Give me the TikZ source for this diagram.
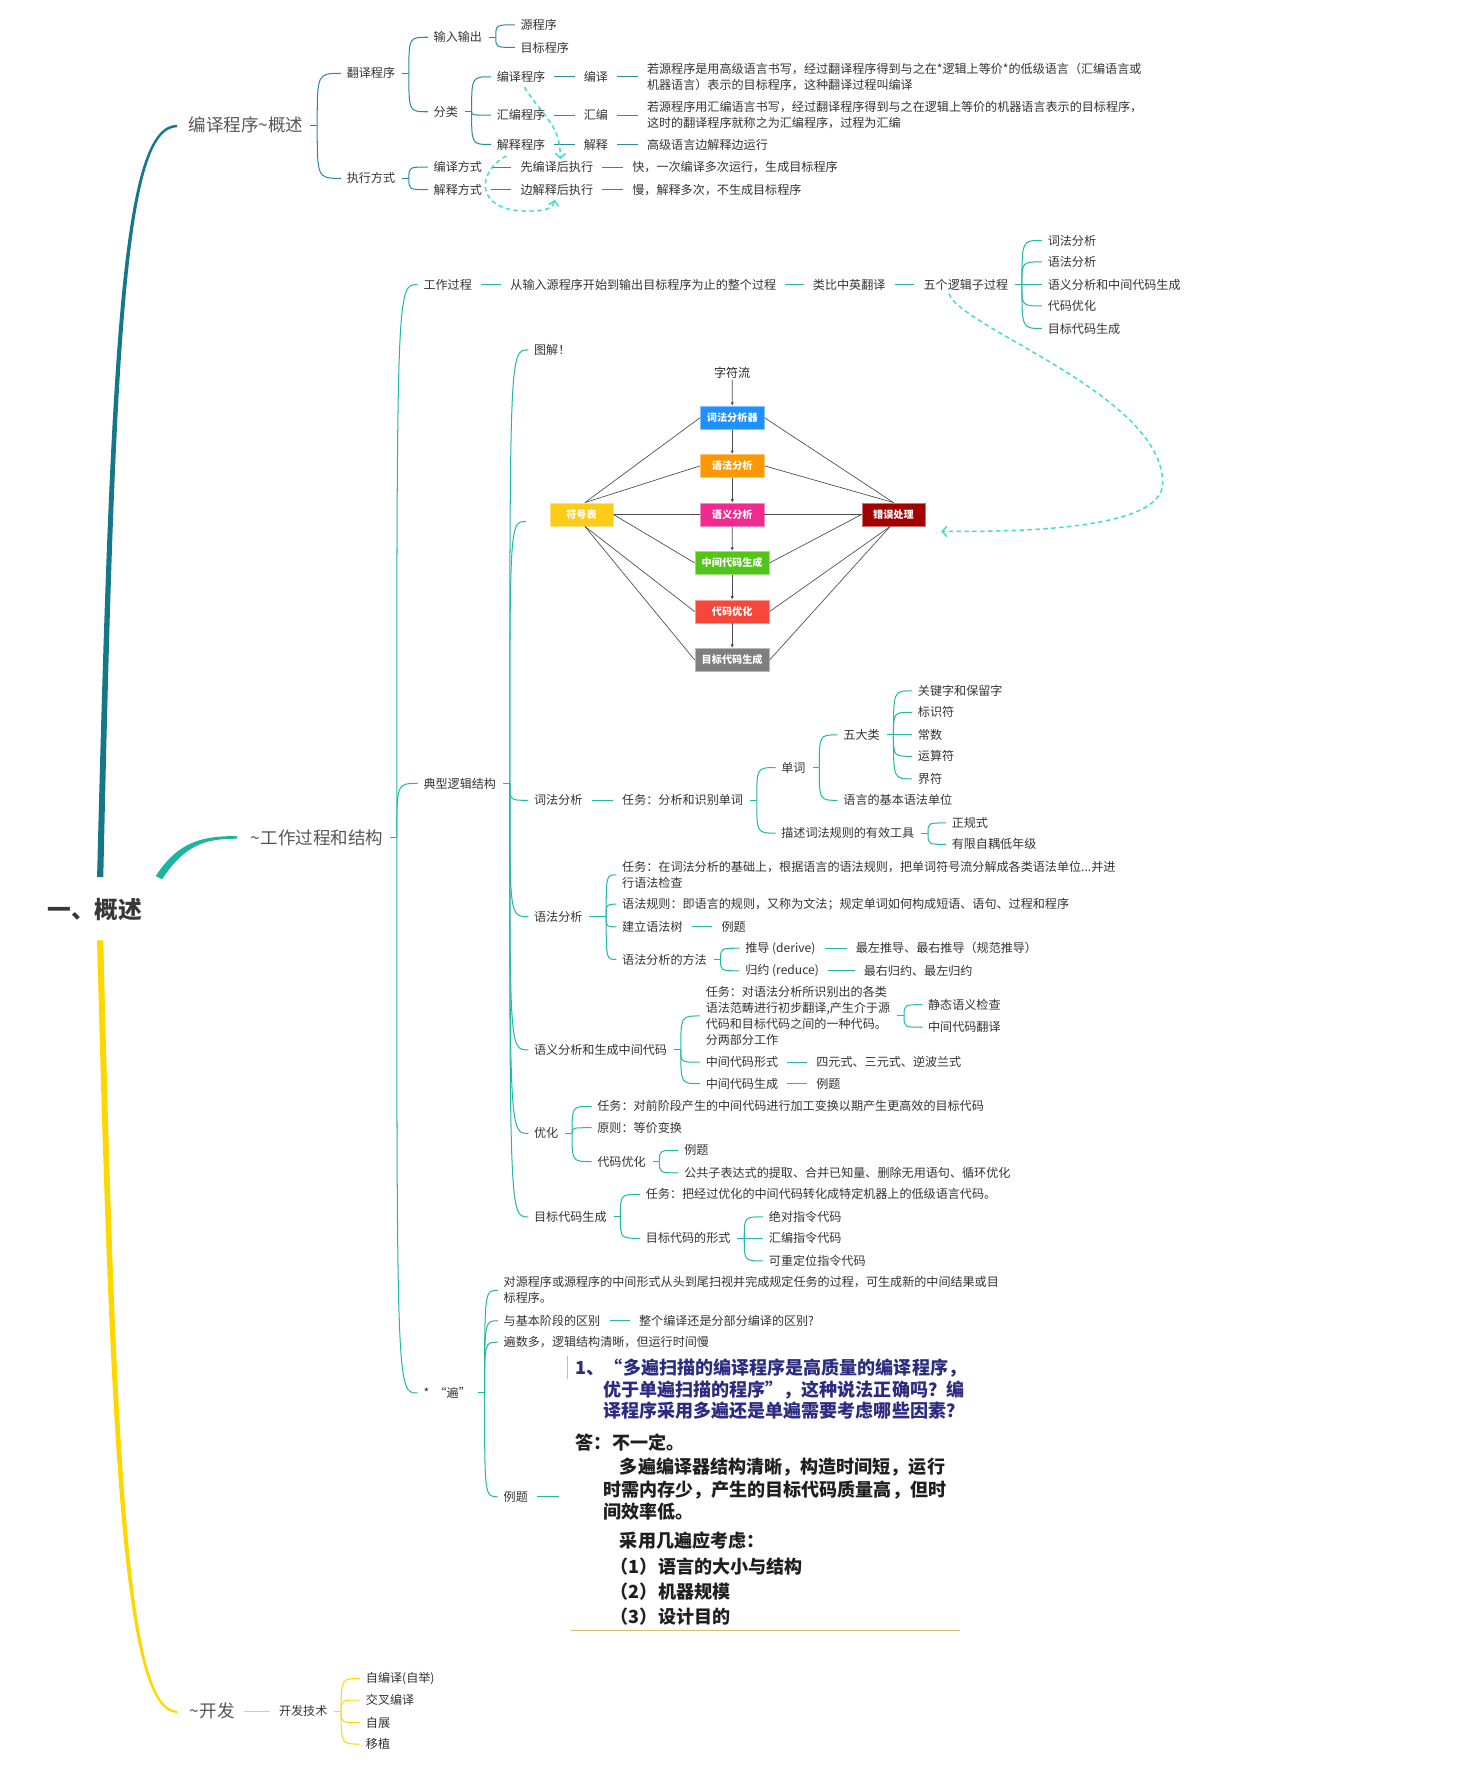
\documentclass[tikz,border=0pt]{standalone}
\usepackage{fontspec}
\setmainfont{Noto Sans CJK SC}
\usetikzlibrary{arrows.meta,calc}
\definecolor{txt}{HTML}{333333}
\definecolor{lv}{HTML}{555555}
\definecolor{cAm}{HTML}{15788A}
\definecolor{cA}{HTML}{2B8A9C}
\definecolor{cBm}{HTML}{1CB5A0}
\definecolor{cB}{HTML}{22B8A6}
\definecolor{cC}{HTML}{FFD700}
\definecolor{dsc}{HTML}{40DDCC}
\definecolor{navy}{HTML}{2B2B80}
\definecolor{tanc}{HTML}{D6BE78}
\definecolor{k1}{HTML}{1E90FF}
\definecolor{k2}{HTML}{FF9800}
\definecolor{k3}{HTML}{F02A8F}
\definecolor{k4}{HTML}{52C41A}
\definecolor{k5}{HTML}{F5483B}
\definecolor{k6}{HTML}{7F7F7F}
\definecolor{k7}{HTML}{FCCC17}
\definecolor{k8}{HTML}{A30000}
\newcommand\mmfan[3]{%
  \coordinate (#2-p) at ([xshift=7pt]#2.east);
  \draw[#1] ([xshift=1pt]#2.east) -- (#2-p);
  \foreach \chn in {#3} {\draw[#1] (#2-p) to[br] (\chn.west);}%
}
\newcommand\mmln[3]{\draw[#1,ch] (#2.east) -- (#3.west);}
\begin{document}
\begin{tikzpicture}[x=1pt,y=-1pt,
  t/.style={anchor=west, xshift=-5pt, inner xsep=5pt, inner ysep=2pt, text=txt,
    font=\fontsize{10.7}{14}\selectfont, align=left},
  L1/.style={t, font=\fontsize{15.5}{18}\selectfont, text=lv},
  ca/.style={draw=cA, line width=0.9pt},
  cb/.style={draw=cB, line width=0.9pt},
  cc/.style={draw=cC, line width=0.9pt},
  ch/.style={shorten <=3pt, shorten >=3pt},
  br/.style={to path={.. controls (\tikztostart |- \tikztotarget) .. (\tikztotarget) \tikztonodes}},
  dsh/.style={draw=dsc, line width=1.3pt, dash pattern=on 4pt off 3pt, -{Straight Barb[length=4pt,width=9pt]}},
  box/.style={fill=#1, draw=#1!55!white, line width=0.6pt, minimum height=20.6pt, inner sep=0pt,
    text=white, font=\bfseries\fontsize{9}{10}\selectfont},
  dl/.style={draw=black!70, line width=0.6pt},
  arr/.style={dl, -{Latex[length=3pt,width=3pt]}},
  big/.style={anchor=west, inner sep=0pt, font=\bfseries\fontsize{16}{19}\selectfont}
]
\useasboundingbox (0,0) rectangle (1300,1568);

% ---------------- root and main branches
\node[font=\bfseries\fontsize{21}{24}\selectfont, text=black!78] (R) at (84,806) {一、概述};
\fill[cAm] (86,777) .. controls (98,300) and (108,110.5) .. (157,110.5) -- (157,112.7)
  .. controls (111,112.7) and (102,300) .. (91.5,777) -- cycle;
\fill[cBm] (138,776) .. controls (158,745) and (180,740.6) .. (210,740.6) -- (210,743)
  .. controls (182,743) and (164,748) .. (143.5,779) -- cycle;
\fill[cC] (86,833) .. controls (98,1300) and (110,1517.5) .. (157,1517.5) -- (157,1515.5)
  .. controls (113,1515.5) and (103,1300) .. (91.5,833) -- cycle;

% ---------------- branch A
\node[L1] (A) at (167,111) {编译程序{\textasciitilde}概述};
\node[t] (A1) at (307,65) {翻译程序};
\node[t] (A2) at (307,158) {执行方式};
\node[t] (A11) at (384,33) {输入输出};
\node[t] (A12) at (384,99) {分类};
\node[t] (A111) at (461,22) {源程序};
\node[t] (A112) at (461,42) {目标程序};
\node[t] (Aa) at (440,68) {编译程序};
\node[t] (Ab) at (440,102) {汇编程序};
\node[t] (Ac) at (440,128) {解释程序};
\node[t] (Aa2) at (517,68) {编译};
\node[t] (Ab2) at (517,102) {汇编};
\node[t] (Ac2) at (517,128) {解释};
\node[t] (Aa3) at (573,68) {若源程序是用高级语言书写，经过翻译程序得到与之在*逻辑上等价*的低级语言（汇编语言或\\机器语言）表示的目标程序，这种翻译过程叫编译};
\node[t] (Ab3) at (573,102) {若源程序用汇编语言书写，经过翻译程序得到与之在逻辑上等价的机器语言表示的目标程序，\\这时的翻译程序就称之为汇编程序，过程为汇编};
\node[t] (Ac3) at (573,128) {高级语言边解释边运行};
\node[t] (A21) at (384,148) {编译方式};
\node[t] (A22) at (384,168) {解释方式};
\node[t] (A21b) at (461,148) {先编译后执行};
\node[t] (A22b) at (461,168) {边解释后执行};
\node[t] (A21c) at (560,148) {快，一次编译多次运行，生成目标程序};
\node[t] (A22c) at (560,168) {慢，解释多次，不生成目标程序};

\mmfan{ca}{A}{A1,A2}
\mmfan{ca}{A1}{A11,A12}
\mmfan{ca}{A11}{A111,A112}
\mmfan{ca}{A12}{Aa,Ab,Ac}
\mmfan{ca}{A2}{A21,A22}
\mmln{ca}{Aa}{Aa2}\mmln{ca}{Aa2}{Aa3}
\mmln{ca}{Ab}{Ab2}\mmln{ca}{Ab2}{Ab3}
\mmln{ca}{Ac}{Ac2}\mmln{ca}{Ac2}{Ac3}
\mmln{ca}{A21}{A21b}\mmln{ca}{A21b}{A21c}
\mmln{ca}{A22}{A22b}\mmln{ca}{A22b}{A22c}

\draw[dsh] ([xshift=3pt,yshift=-2pt]Aa.south) .. controls (478,100) and (497,110) .. ([xshift=3pt]A21b.north);
\coordinate (w2) at (467,187);
\draw[dsh] ([xshift=-13pt,yshift=-3pt]Ac.south) .. controls (422,152) and (420,187) .. (w2)
  .. controls (482,187) and (490,185) .. ([xshift=-2pt,yshift=-2pt]A22b.south);

% ---------------- branch B
\node[L1] (B) at (222,742) {{\textasciitilde}工作过程和结构};
\node[t] (B1) at (375,252) {工作过程};
\node[t] (B2) at (375,694) {典型逻辑结构};
\node[t] (B3) at (375,1234) {*\ \ “遍”};
\mmfan{cb}{B}{B1,B2,B3}

\node[t] (B11) at (452,252) {从输入源程序开始到输出目标程序为止的整个过程};
\node[t] (B12) at (720,252) {类比中英翻译};
\node[t] (B13) at (818,252) {五个逻辑子过程};
\mmln{cb}{B1}{B11}\mmln{cb}{B11}{B12}\mmln{cb}{B12}{B13}
\node[t] (F1) at (928,213) {词法分析};
\node[t] (F2) at (928,232) {语法分析};
\node[t] (F3) at (928,252) {语义分析和中间代码生成};
\node[t] (F4) at (928,271) {代码优化};
\node[t] (F5) at (928,291) {目标代码生成};
\mmfan{cb}{B13}{F1,F2,F3,F4,F5}

% typical structure
\node[t] (G0) at (473,310) {图解！};
\coordinate (dg) at (466,462);
\node[t] (G1) at (473,709) {词法分析};
\node[t] (G2) at (473,812) {语法分析};
\node[t] (G3) at (473,930) {语义分析和生成中间代码};
\node[t] (G4) at (473,1004) {优化};
\node[t] (G5) at (473,1078) {目标代码生成};
\coordinate (B2-p) at ([xshift=7pt]B2.east);
\draw[cb] ([xshift=1pt]B2.east) -- (B2-p);
\foreach \chn in {G0,G1,G2,G3,G4,G5} {\draw[cb] (B2-p) to[br] (\chn.west);}
\draw[cb] (B2-p) to[br] (dg);

% diagram
\node[text=black!85, font=\fontsize{10.7}{12}\selectfont, inner sep=1pt] (zf) at (648.6,330.6) {字符流};
\node[box=k1, minimum width=56.4pt] (d1) at (648.7,370) {词法分析器};
\node[box=k2, minimum width=56.4pt] (d2) at (648.7,412.7) {语法分析};
\node[box=k3, minimum width=56.4pt] (d3) at (648.7,455.8) {语义分析};
\node[box=k4, minimum width=66pt] (d4) at (648.6,498.6) {中间代码生成};
\node[box=k5, minimum width=66pt] (d5) at (648.6,541.7) {代码优化};
\node[box=k6, minimum width=66pt] (d6) at (648.6,584.5) {目标代码生成};
\node[box=k7, minimum width=56pt] (ds) at (515.2,455.8) {符号表};
\node[box=k8, minimum width=56pt] (de) at (791.5,455.8) {错误处理};
\draw[arr] (zf) -- (d1);
\draw[arr] (d1) -- (d2);
\draw[arr] (d2) -- (d3);
\draw[arr] (d3) -- (d4);
\draw[arr] (d4) -- (d5);
\draw[arr] (d5) -- (d6);
\draw[dl] ([xshift=3pt]ds.north) -- (d1.west);
\draw[dl] ([xshift=3pt]ds.north) -- (d2.west);
\draw[dl] (ds.east) -- (d3.west);
\draw[dl] (ds.east) -- (d4.west);
\draw[dl] ([xshift=3pt]ds.south) -- (d5.west);
\draw[dl] ([xshift=3pt]ds.south) -- (d6.west);
\draw[dl] (de.north) -- (d1.east);
\draw[dl] (de.north) -- (d2.east);
\draw[dl] (de.west) -- (d3.east);
\draw[dl] (de.west) -- (d4.east);
\draw[dl] ([xshift=-3pt]de.south) -- (d5.east);
\draw[dl] ([xshift=-3pt]de.south) -- (d6.east);

\draw[dsh] ([xshift=-15pt,yshift=-1pt]B13.south) .. controls (850,290) and (1030,350) .. (1030,428)
  .. controls (1030,470) and (900,471) .. ([xshift=14pt,yshift=-15pt]de.east);

% lexical analysis
\node[t] (G11) at (551,709) {任务：分析和识别单词};
\mmln{cb}{G1}{G11}
\node[t] (H1) at (692,680) {单词};
\node[t] (H2) at (692,738) {描述词法规则的有效工具};
\mmfan{cb}{G11}{H1,H2}
\node[t] (H11) at (747,651) {五大类};
\node[t] (H12) at (747,709) {语言的基本语法单位};
\mmfan{cb}{H1}{H11,H12}
\node[t] (K1) at (813,612) {关键字和保留字};
\node[t] (K2) at (813,631) {标识符};
\node[t] (K3) at (813,651) {常数};
\node[t] (K4) at (813,670) {运算符};
\node[t] (K5) at (813,690) {界符};
\mmfan{cb}{H11}{K1,K2,K3,K4,K5}
\node[t] (H21) at (843,729) {正规式};
\node[t] (H22) at (843,748) {有限自耦低年级};
\mmfan{cb}{H2}{H21,H22}

% syntax analysis
\node[t] (S1) at (551,775) {任务：在词法分析的基础上，根据语言的语法规则，把单词符号流分解成各类语法单位...并进\\行语法检查};
\node[t] (S2) at (551,801) {语法规则：即语言的规则，又称为文法；规定单词如何构成短语、语句、过程和程序};
\node[t] (S3) at (551,821) {建立语法树};
\node[t] (S4) at (551,850) {语法分析的方法};
\coordinate (G2-p) at (537,812);
\draw[cb] ([xshift=1pt]G2.east) -- (G2-p);
\foreach \chn in {S1,S2,S3,S4} {\draw[cb] (G2-p) to[br] (\chn.west);}
\node[t] (S31) at (639,821) {例题};
\mmln{cb}{S3}{S31}
\node[t] (S41) at (660,840) {推导 (derive)};
\node[t] (S42) at (660,860) {归约 (reduce)};
\mmfan{cb}{S4}{S41,S42}
\node[t] (S411) at (758,840) {最左推导、最右推导（规范推导）};
\node[t] (S421) at (765,860) {最右归约、最左归约};
\mmln{cb}{S41}{S411}\mmln{cb}{S42}{S421}

% semantic analysis
\node[t] (M1) at (625,900) {任务：对语法分析所识别出的各类\\语法范畴进行初步翻译,产生介于源\\代码和目标代码之间的一种代码。\\分两部分工作};
\node[t] (M2) at (625,941) {中间代码形式};
\node[t] (M3) at (625,960) {中间代码生成};
\mmfan{cb}{G3}{M1,M2,M3}
\node[t] (M11) at (822,890) {静态语义检查};
\node[t] (M12) at (822,910) {中间代码翻译};
\mmfan{cb}{M1}{M11,M12}
\node[t] (M21) at (723,941) {四元式、三元式、逆波兰式};
\node[t] (M31) at (723,960) {例题};
\mmln{cb}{M2}{M21}\mmln{cb}{M3}{M31}

% optimisation
\node[t] (O1) at (529,980) {任务：对前阶段产生的中间代码进行加工变换以期产生更高效的目标代码};
\node[t] (O2) at (529,999) {原则：等价变换};
\node[t] (O3) at (529,1029) {代码优化};
\mmfan{cb}{G4}{O1,O2,O3}
\node[t] (O31) at (606,1019) {例题};
\node[t] (O32) at (606,1039) {公共子表达式的提取、合并已知量、删除无用语句、循环优化};
\mmfan{cb}{O3}{O31,O32}

% target code
\node[t] (T1) at (572,1058) {任务：把经过优化的中间代码转化成特定机器上的低级语言代码。};
\node[t] (T2) at (572,1097) {目标代码的形式};
\mmfan{cb}{G5}{T1,T2}
\node[t] (T21) at (681,1078) {绝对指令代码};
\node[t] (T22) at (681,1097) {汇编指令代码};
\node[t] (T23) at (681,1117) {可重定位指令代码};
\mmfan{cb}{T2}{T21,T22,T23}

% pass
\node[t] (P1) at (446,1143) {对源程序或源程序的中间形式从头到尾扫视并完成规定任务的过程，可生成新的中间结果或目\\标程序。};
\node[t] (P2) at (446,1170) {与基本阶段的区别};
\node[t] (P3) at (446,1189) {遍数多，逻辑结构清晰，但运行时间慢};
\node[t] (P4) at (446,1326) {例题};
\mmfan{cb}{B3}{P1,P2,P3,P4}
\node[t] (P21) at (566,1170) {整个编译还是分部分编译的区别?};
\mmln{cb}{P2}{P21}
\coordinate (P4e) at (495,1326);
\draw[cb,shorten <=3pt] (P4.east) -- (P4e);

% example picture
\draw[tanc, line width=1.2pt] (503,1201) -- (503,1222);
\draw[tanc, line width=1pt] (506,1444.5) -- (850,1444.5);
\node[big, text=navy] (q1) at (510,1212) {1、“多遍扫描的编译程序是高质量的编译程序，};
\node[big, text=navy] (q2) at (534,1231) {优于单遍扫描的程序”，这种说法正确吗？编};
\node[big, text=navy] (q3) at (534,1250) {译程序采用多遍还是单遍需要考虑哪些因素？};
\node[big, text=black!88] (a1) at (510,1278) {答：不一定。};
\node[big, text=black!88] (a2) at (549,1300) {多遍编译器结构清晰，构造时间短，运行};
\node[big, text=black!88] (a3) at (534,1320) {时需内存少，产生的目标代码质量高，但时};
\node[big, text=black!88] (a4) at (534,1339) {间效率低。};
\node[big, text=black!88] (a5) at (549,1365) {采用几遍应考虑：};
\node[big, text=black!88] (a6) at (541,1388) {（1）语言的大小与结构};
\node[big, text=black!88] (a7) at (541,1410) {（2）机器规模};
\node[big, text=black!88] (a8) at (541,1432) {（3）设计目的};

% ---------------- branch C
\node[L1] (C) at (168,1516) {{\textasciitilde}开发};
\node[t] (C1) at (247,1516) {开发技术};
\mmln{cc}{C}{C1}
\node[t] (C11) at (324,1487) {自编译(自举)};
\node[t] (C12) at (324,1506) {交叉编译};
\node[t] (C13) at (324,1526) {自展};
\node[t] (C14) at (324,1545) {移植};
\mmfan{cc}{C1}{C11,C12,C13,C14}
\end{tikzpicture}
\end{document}
